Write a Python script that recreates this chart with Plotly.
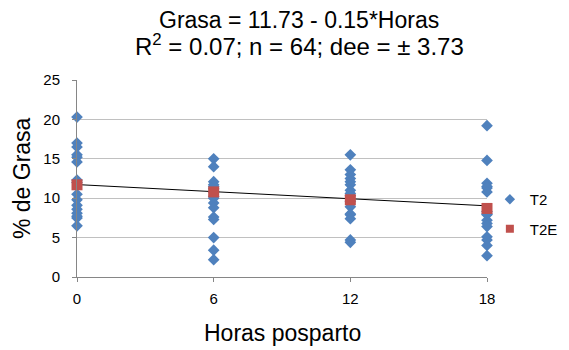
import plotly.graph_objects as go

horas = [0, 6, 12, 18]
grasa_0 = [20.3, 17.0, 16.5, 15.5, 15.2, 14.6, 12.3, 12.0, 10.5, 9.8, 9.1, 8.6, 8.1, 7.7, 7.5, 6.5]
grasa_6 = [15.0, 14.0, 12.1, 11.7, 11.5, 11.2, 10.8, 10.2, 10.0, 9.4, 8.8, 7.6, 7.3, 5.0, 3.4, 2.2]
grasa_12 = [15.5, 13.6, 13.0, 12.5, 12.1, 11.7, 11.0, 10.6, 10.3, 9.6, 8.9, 8.0, 7.9, 7.4, 4.7, 4.4]
grasa_18 = [19.2, 14.8, 11.9, 11.5, 11.3, 10.8, 8.3, 8.0, 7.9, 7.2, 6.8, 6.4, 5.1, 4.7, 4.0, 2.7]
medias_t2e = [11.7, 10.8, 9.8, 8.7]
intercepto = 11.73
pendiente = -0.15
y_ticks = [0, 5, 10, 15, 20, 25]
titulo_1 = "Grasa = 11.73 - 0.15*Horas"
titulo_2 = "R<sup>2</sup> = 0.07; n = 64; dee = ± 3.73"
titulo_x = "Horas posparto"
titulo_y = "% de Grasa"

AZUL = "#4F81BD"
ROJO = "#C0504D"

grupos = [grasa_0, grasa_6, grasa_12, grasa_18]
xs, ys = [], []
for h, g in zip(horas, grupos):
    xs += [h] * len(g)
    ys += g

fig = go.Figure()
fig.add_trace(go.Scatter(
    x=xs, y=ys, mode="markers", name="T2", showlegend=False,
    marker=dict(symbol="diamond", size=9, color=AZUL),
))
fig.add_trace(go.Scatter(
    x=[horas[0], horas[-1]],
    y=[intercepto + pendiente * horas[0], intercepto + pendiente * horas[-1]],
    mode="lines", line=dict(color="black", width=1), showlegend=False,
))
fig.add_trace(go.Scatter(
    x=horas, y=medias_t2e, mode="markers", name="T2E", showlegend=False,
    marker=dict(symbol="square", size=11, color=ROJO),
))
# legend entries (smaller markers, as in the reference legend)
fig.add_trace(go.Scatter(
    x=[None], y=[None], mode="markers", name="T2", legendgroup="a",
    marker=dict(symbol="diamond", size=8, color=AZUL),
))
fig.add_trace(go.Scatter(
    x=[None], y=[None], mode="markers", name="T2E", legendgroup="b",
    marker=dict(symbol="square", size=8, color=ROJO),
))

font_fam = "Liberation Sans, Arial, sans-serif"
fig.update_layout(
    width=561, height=342,
    margin=dict(l=69, r=82, t=72, b=73, autoexpand=False),
    paper_bgcolor="white", plot_bgcolor="white",
    font=dict(family=font_fam, color="black"),
    showlegend=True,
    legend=dict(x=1.007, xanchor="left", y=0.32, yanchor="middle",
                font=dict(size=15), itemsizing="trace", itemwidth=30,
                tracegroupgap=7, bgcolor="rgba(0,0,0,0)"),
    annotations=[
        dict(text=titulo_1, xref="paper", yref="paper", x=0.5415, y=1.3046,
             xanchor="center", yanchor="middle", showarrow=False,
             font=dict(size=23)),
        dict(text=titulo_2, xref="paper", yref="paper", x=0.5415, y=1.1777,
             xanchor="center", yanchor="middle", showarrow=False,
             font=dict(size=24)),
        dict(text=titulo_x, xref="paper", yref="paper", x=0.5, y=-0.284,
             xanchor="center", yanchor="middle", showarrow=False,
             font=dict(size=23)),
        dict(text=titulo_y, xref="paper", yref="paper", x=-0.134, y=0.5025,
             xanchor="center", yanchor="middle", showarrow=False,
             textangle=-90, font=dict(size=23)),
    ],
)
fig.update_xaxes(
    range=[0, 18], tickvals=horas, ticktext=[str(h) for h in horas],
    showgrid=False, showline=True, linecolor="#868686", linewidth=1,
    ticks="outside", ticklen=4, tickcolor="#868686", ticklabelstandoff=4,
    tickfont=dict(size=15), zeroline=False, automargin=False,
)
fig.update_yaxes(
    range=[0, 25], tickvals=y_ticks,
    showgrid=True, gridcolor="#C0C0C0", gridwidth=1,
    showline=True, linecolor="#868686", linewidth=1,
    ticks="outside", ticklen=4, tickcolor="#868686", ticklabelstandoff=9,
    tickfont=dict(size=15), zeroline=False, automargin=False,
)
fig.update_traces(cliponaxis=False)

fig.write_html("out.html")
